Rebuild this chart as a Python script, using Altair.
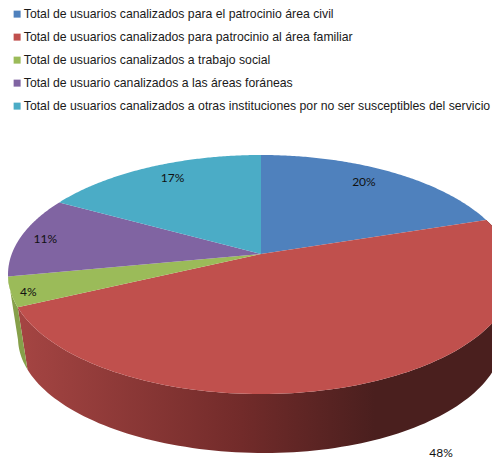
import math
import altair as alt
import pandas as pd

names = [
    "Total de usuarios canalizados para el patrocinio área civil",
    "Total de usuarios canalizados para patrocinio al área familiar",
    "Total de usuarios canalizados a trabajo social",
    "Total de usuario canalizados a las áreas foráneas",
    "Total de usuarios canalizados a otras instituciones por no ser susceptibles del servicio",
]
values = [20, 48, 4, 11, 17]
colors = ["#4f81bd", "#c0504d", "#9bbb59", "#8064a2", "#4bacc6"]
label_reach = [(0.80, 0.87), (1.65, 1.55), (0.93, 1.0), (0.90, 0.83), (0.80, 0.87)]

# ellipses of the tilted pie and its lower rim
TOP = dict(cx=261, cy=274.5, rx=253, rx_right=253, ry=119.5)
BOT = dict(cx=265, cy=338, rx=247, rx_right=238, ry=115)
A = 0.1715  # perspective shift of the pie centre


def project(deg, e):
    t = math.radians(deg)
    u, v = math.sin(t), math.cos(t)
    d = 1 + A * v
    rx = e["rx_right"] if u > 0 else e["rx"]
    return (e["cx"] + rx * u * math.sqrt(1 - A * A) / d,
            e["cy"] - e["ry"] * (v + A) / d)


apex = (TOP["cx"], TOP["cy"] - TOP["ry"] * A)
edges = [0]
for val in values:
    edges.append(edges[-1] + val * 3.6)


def arc(a, b, e, n=120):
    return [project(a + (b - a) * k / n, e) for k in range(n + 1)]


top_rows, red_wall, green_wall, labels = [], [], [], []
for name, a, b in zip(names, edges, edges[1:]):
    pts = [apex] + arc(a, b, TOP)
    top_rows += [dict(name=name, i=i, x=p[0], y=p[1]) for i, p in enumerate(pts)]

for i, p in enumerate(arc(edges[1], edges[2], TOP) + arc(edges[2], edges[1], BOT)):
    red_wall.append(dict(i=i, x=p[0], y=p[1]))
for i, p in enumerate(arc(edges[2], edges[3], TOP, 20) + arc(edges[3], edges[2], BOT, 20)):
    green_wall.append(dict(i=i, x=p[0], y=p[1]))

for val, a, b, (fx, fy) in zip(values, edges, edges[1:], label_reach):
    px, py = project((a + b) / 2, TOP)
    labels.append(dict(t=f"{val}%", x=apex[0] + (px - apex[0]) * fx, y=apex[1] + (py - apex[1]) * fy))

X = alt.X("x:Q", scale=alt.Scale(domain=[8, 492]), axis=None)
Y = alt.Y("y:Q", scale=alt.Scale(domain=[460, 8]), axis=None)
O = alt.Order("i:Q")

red_side = alt.Chart(pd.DataFrame(red_wall)).mark_line(
    filled=True, clip=True, strokeWidth=0,
    color=alt.Gradient(gradient="linear", x1=0, x2=1, y1=0, y2=0, stops=[
        alt.GradientStop(color="#a54543", offset=0.0),
        alt.GradientStop(color="#722b2a", offset=0.45),
        alt.GradientStop(color="#4a1f1e", offset=0.72),
        alt.GradientStop(color="#4a1f1e", offset=1.0),
    ]),
).encode(x=X, y=Y, order=O)

green_side = alt.Chart(pd.DataFrame(green_wall)).mark_line(
    filled=True, clip=True, strokeWidth=0, color="#86a04a"
).encode(x=X, y=Y, order=O)

surface = alt.Chart(pd.DataFrame(top_rows)).mark_line(filled=True, clip=True).encode(
    x=X, y=Y, order=O,
    color=alt.Color("name:N", scale=alt.Scale(domain=names, range=colors), legend=alt.Legend(
        title=None, orient="none", legendX=3, legendY=0, symbolType="square", symbolSize=49,
        symbolStrokeWidth=0, labelFont="Liberation Sans", labelFontSize=12.25, labelColor="#1a1a1a",
        labelLimit=490, rowPadding=10, padding=0, labelOffset=0.5, symbolOpacity=1,
    )),
)

text = alt.Chart(pd.DataFrame(labels)).mark_text(
    font="Lato", fontSize=12, color="#111111"
).encode(x=X, y=Y, text="t:N")

chart = alt.layer(red_side, green_side, surface, text).properties(
    width=484, height=452, padding=0, autosize=alt.AutoSizeParams(type="none"),
).configure_view(stroke=None)

chart.save("out.html", embed_options={"renderer": "svg", "actions": False})
